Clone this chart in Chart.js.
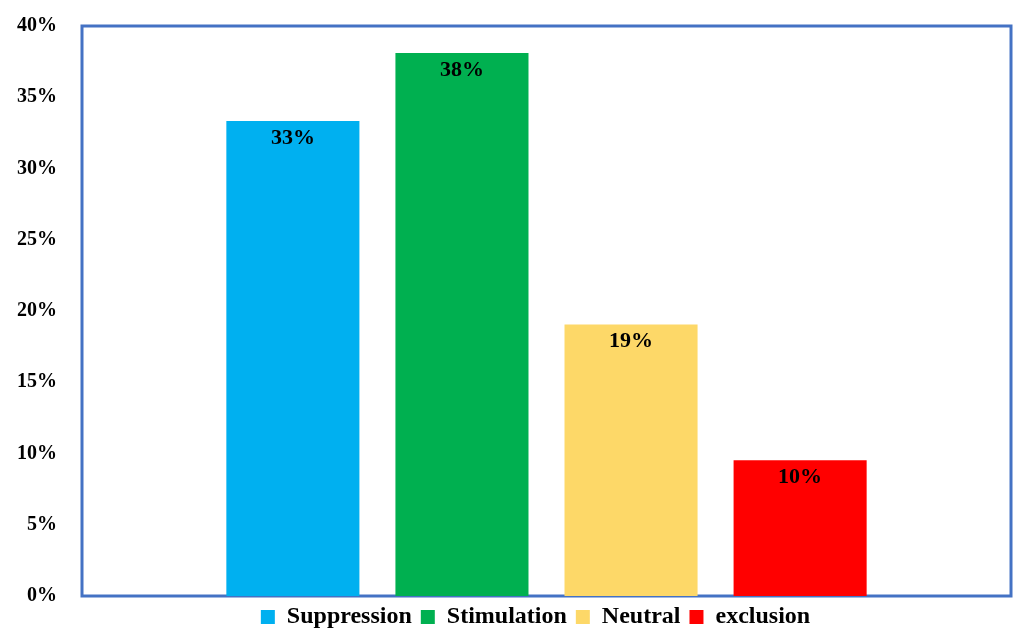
<!DOCTYPE html>
<html>
<head>
<meta charset="utf-8">
<script src="https://cdn.jsdelivr.net/npm/chart.js@4/dist/chart.umd.min.js"></script>
<style>
  html, body { margin: 0; padding: 0; background: #fff; }
  #wrap { width: 1015px; height: 631px; }
</style>
</head>
<body>
<div id="wrap"><canvas id="effectChart"></canvas></div>
<script>
// data (n = 21 -> 7, 8, 4, 2)
const groups = ['Suppression', 'Stimulation', 'Neutral', 'exclusion']
const shares = [33.33, 38.10, 19.05, 9.52]
const groupColors = ['#00B0F0', '#00B050', '#FDD868', '#FF0000']
const yTicks = [0, 5, 10, 15, 20, 25, 30, 35, 40]

const serif = '"Liberation Serif", "DejaVu Serif", serif'

// blue frame round the plot area, drawn under the bars
const plotFrame = {
    id: 'plotFrame',
    beforeDatasetsDraw(chart) {
        const { ctx, chartArea: a } = chart
        ctx.save()
        ctx.strokeStyle = '#4472C4'
        ctx.lineWidth = 3
        ctx.strokeRect(a.left, a.top, a.right - a.left, a.bottom - a.top)
        ctx.restore()
    }
}

// value labels just inside the top of each bar
const barLabels = {
    id: 'barLabels',
    afterDatasetsDraw(chart) {
        const ctx = chart.ctx
        ctx.save()
        ctx.font = 'bold 22px ' + serif
        ctx.fillStyle = '#000'
        ctx.textAlign = 'center'
        ctx.textBaseline = 'top'
        chart.data.datasets.forEach((ds, i) => {
            const bar = chart.getDatasetMeta(i).data[0]
            ctx.fillText(Math.round(ds.data[0]) + '%', bar.x, bar.y + 6)
        })
        ctx.restore()
    }
}

// legend sits a little right of the page centre in the original
const legendShift = {
    id: 'legendShift',
    afterLayout(chart) {
        chart.legend.left += 30
        chart.legend.right += 30
    }
}

const ctx = document.getElementById('effectChart').getContext('2d')
const effectChart = new Chart(ctx, {
    type: 'bar',
    data: {
        labels: [''],
        datasets: groups.map((g, i) => ({
            label: g,
            data: [shares[i]],
            backgroundColor: groupColors[i],
            barPercentage: 0.787,
            categoryPercentage: 0.728
        }))
    },
    options: {
        responsive: true,
        maintainAspectRatio: false,
        animation: false,
        layout: { padding: { top: 26, right: 4, left: 0, bottom: -8 } },
        plugins: {
            legend: {
                position: 'bottom',
                labels: {
                    boxWidth: 14,
                    boxHeight: 14,
                    padding: 9,
                    color: '#000',
                    font: { family: serif, size: 24, weight: 'bold' }
                }
            },
            tooltip: { enabled: false }
        },
        scales: {
            x: {
                grid: { display: false, drawTicks: false },
                border: { display: false },
                ticks: { display: false }
            },
            y: {
                min: 0,
                max: 40,
                afterBuildTicks(scale) {
                    scale.ticks = yTicks.map(v => ({ value: v }))
                },
                afterFit(scale) {
                    scale.width = 82
                },
                // invisible tick marks keep the labels 25px off the frame
                grid: { display: false, drawTicks: true, tickLength: 22 },
                border: { display: false },
                ticks: {
                    padding: 3,
                    color: '#000',
                    font: { family: serif, size: 20, weight: 'bold' },
                    callback: v => v + '%'
                }
            }
        }
    },
    plugins: [plotFrame, barLabels, legendShift]
})
</script>
</body>
</html>
